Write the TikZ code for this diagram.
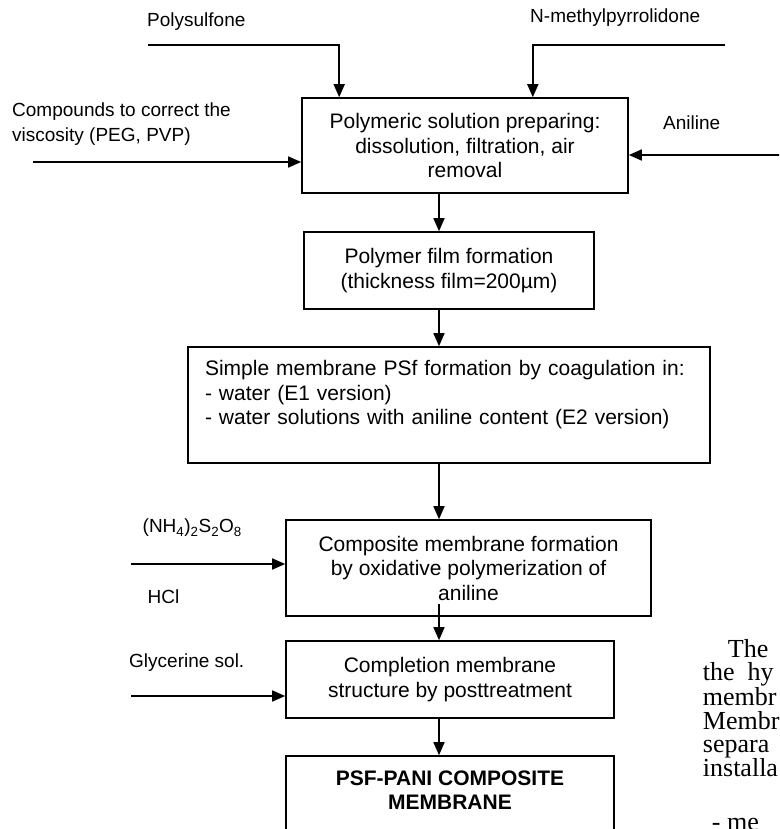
\documentclass[tikz,border=0pt]{standalone}
\usepackage{fontspec}
\setmainfont{Liberation Sans}
\newfontfamily\paperfont{Liberation Serif}
\usetikzlibrary{arrows.meta}

\begin{document}
\begin{tikzpicture}
    [
    x=1pt, y=-1pt,
    box/.style={
        rectangle,
        draw=black,
        line width=1.6pt,
        align=center,
        inner sep=0pt,
        font=\fontsize{21}{24.5}\selectfont
    },
    feed/.style={
        anchor=west,
        inner sep=0pt,
        font=\fontsize{19}{25}\selectfont
    },
    flow/.style={-{Triangle[length=13pt, width=11pt]}, line width=1.6pt},
    paper/.style={anchor=north west, inner sep=0pt, align=left,
        font=\paperfont\fontsize{26}{23.6}\selectfont}
    ]

    \useasboundingbox (0,0) rectangle (779,829);
    \clip (0,0) rectangle (779,829);

% Process steps
    \node[box, minimum width=326pt, minimum height=95pt] (prep) at (465,145.5)
        {Polymeric solution preparing:\\dissolution, filtration, air\\removal};
    \node[box, minimum width=290pt, minimum height=77pt] (film) at (449,270.5)
        {Polymer film formation\\(thickness film=200µm)};
    \node[box, align=left, text width=488pt, inner xsep=17pt, minimum height=116pt] (coag) at (449,405)
        {Simple membrane PSf formation by coagulation in:\\- water (E1 version)\\- water solutions with aniline content (E2 version)\\~};
    \node[box, minimum width=365pt, minimum height=96pt] (oxid) at (468.5,568)
        {Composite membrane formation\\by oxidative polymerization of\\aniline};
    \node[box, minimum width=328pt, minimum height=77pt] (post) at (450,679.5)
        {Completion membrane\\structure by posttreatment};
    \node[box, font=\fontsize{21}{24.5}\selectfont\bfseries, minimum width=328pt, minimum height=117pt] (final) at (450,814.5)
        {PSF-PANI COMPOSITE\\MEMBRANE\\~\\~};

% Main line
    \coordinate (axis) at (439,0);
    \draw[flow] (prep.south -| axis) -- (film.north -| axis);
    \draw[flow] (film.south -| axis) -- (coag.north -| axis);
    \draw[flow] (coag.south -| axis) -- (oxid.north -| axis);
    \draw[flow] ([yshift=13pt]oxid.south -| axis) -- (post.north -| axis);
    \draw[flow] (post.south -| axis) -- (final.north -| axis);

% Inputs
    \node[feed] (psf) at (147,22) {Polysulfone};
    \node[feed] (nmp) at (530,18) {N-methylpyrrolidone};
    \node[feed, align=left] (visc) at (12,124.5) {Compounds to correct the\\viscosity (PEG, PVP)};
    \node[feed] (anil) at (663,123) {Aniline};
    \node[feed] (oxy) at (142.5,528) {(NH\textsubscript{4})\textsubscript{2}S\textsubscript{2}O\textsubscript{8}};
    \node[feed] (hcl) at (147.5,597) {HCl};
    \node[feed] (glyc) at (129,663) {Glycerine sol.};

    \coordinate (psfIn) at (148,45);
    \coordinate (nmpIn) at (725,45);
    \coordinate (viscIn) at (33,162);
    \coordinate (anilIn) at (781,155);
    \coordinate (oxyIn) at (131,564);
    \coordinate (glycIn) at (131,696);

    \draw[flow] (psfIn) -| ([xshift=38pt]prep.north west);
    \draw[flow] (nmpIn) -| ([xshift=-96pt]prep.north east);
    \draw[flow] (viscIn) -- (viscIn -| prep.west);
    \draw[flow] (anilIn) -- (anilIn -| prep.east);
    \draw[flow] (oxyIn) -- (oxyIn -| oxid.west);
    \draw[flow] (glycIn) -- (glycIn -| post.west);

% Page text at the right
    \node[paper] (para) at (702.7,639) {\hspace*{25pt}The\\the\ \ hy\\membr\\Membr\\separa\\installa};
    \node[paper] (para2) at (711.7,818) {- me};

\end{tikzpicture}
\end{document}
